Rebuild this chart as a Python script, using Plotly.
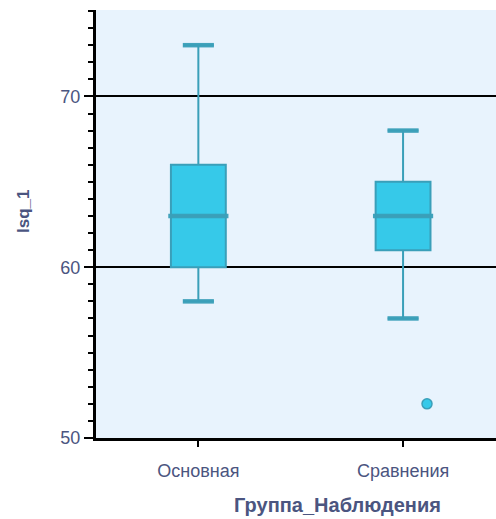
import plotly.graph_objects as go

categories = ["Основная", "Сравнения"]
lower_whisker = [58, 57]
q1 = [60, 61]
median = [63, 63]
q3 = [66, 65]
upper_whisker = [73, 68]
outlier_group = [1]
outlier_values = [52]
y_tick_vals = [50, 60, 70]

FILL = "#36c9e9"
LINE = "#3a9fb9"
TEXT = "#4b5580"
FONT = "Liberation Sans, Arial, sans-serif"

BOX_W = 0.268
CAP_HALF = 0.076
MED_HALF = 0.147
OUT_OFF = 0.117

fig = go.Figure()
for i, cat in enumerate(categories):
    fig.add_trace(go.Box(
        x=[i], q1=[q1[i]], median=[median[i]], q3=[q3[i]],
        lowerfence=[lower_whisker[i]], upperfence=[upper_whisker[i]],
        width=BOX_W, whiskerwidth=0.56, fillcolor=FILL,
        line=dict(color=LINE, width=2), boxpoints=False,
        showlegend=False, hoverinfo="skip", name=cat,
    ))
    # thicker whisker caps and median bar
    for v, h in [(lower_whisker[i], CAP_HALF), (upper_whisker[i], CAP_HALF), (median[i], MED_HALF)]:
        fig.add_trace(go.Scatter(
            x=[i - h, i + h], y=[v, v], mode="lines",
            line=dict(color=LINE, width=4.5), opacity=0.95,
            showlegend=False, hoverinfo="skip",
        ))

fig.add_trace(go.Scatter(
    x=[g + OUT_OFF for g in outlier_group], y=outlier_values, mode="markers",
    marker=dict(size=10, color=FILL, line=dict(color=LINE, width=1.5)),
    showlegend=False, hoverinfo="skip",
))

PLOT_W = 400
PLOT_H = 428
fig.update_layout(
    width=496, height=519,
    margin=dict(l=96, r=0, t=10, b=81),
    paper_bgcolor="white", plot_bgcolor="#e8f3fd",
    font=dict(family=FONT, color=TEXT, size=18),
)
fig.update_xaxes(
    range=[-0.5, 1.454], tickmode="array", tickvals=[0, 1], ticktext=categories,
    showgrid=False, zeroline=False, showline=True, linecolor="black", linewidth=3,
    ticks="outside", ticklen=6, tickwidth=2, tickcolor="black",
    tickfont=dict(size=18, color=TEXT), ticklabelstandoff=8,
)
fig.update_yaxes(
    range=[50, 75.06], tickmode="array", tickvals=y_tick_vals,
    showgrid=True, gridcolor="black", gridwidth=2, zeroline=False,
    showline=True, linecolor="black", linewidth=3,
    ticks="outside", ticklen=9, tickwidth=2, tickcolor="black",
    tickfont=dict(size=18, color=TEXT),
    minor=dict(dtick=1, tick0=50, ticks="outside", ticklen=5, tickwidth=2,
               tickcolor="black", showgrid=False),
)
fig.add_annotation(text="<b>Группа_Наблюдения</b>", xref="paper", yref="paper",
                   x=(337 - 96) / PLOT_W, y=-(505 - 438) / PLOT_H, showarrow=False,
                   font=dict(size=20, color=TEXT), xanchor="center", yanchor="middle")
fig.add_annotation(text="<b>Isq_1</b>", xref="paper", yref="paper",
                   x=-(96 - 23) / PLOT_W, y=(438 - 212) / PLOT_H, showarrow=False, textangle=-90,
                   font=dict(size=17, color=TEXT), xanchor="center", yanchor="middle")

fig.write_html(
    "out.html",
    config={"displayModeBar": False},
    post_script="document.body.style.margin='0';document.body.style.overflow='hidden';",
)
